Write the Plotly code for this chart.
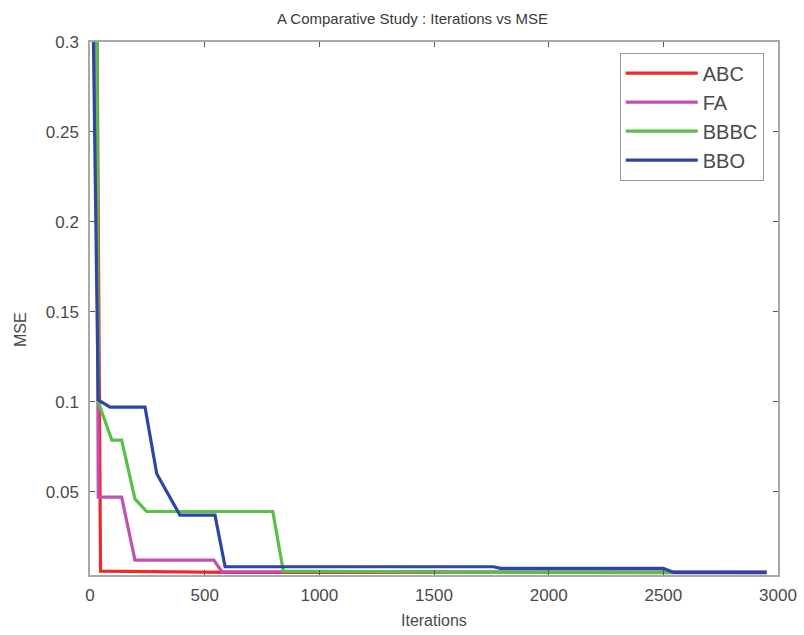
import plotly.graph_objects as go

# Data (breakpoints)
abc_x = [30, 42, 46, 600, 2950]
abc_y = [0.32, 0.047, 0.0058, 0.0052, 0.0050]

fa_x = [28, 36, 138, 196, 540, 575, 2950]
fa_y = [0.32, 0.047, 0.047, 0.012, 0.012, 0.0055, 0.0055]

bbbc_x = [0, 30, 36, 95, 138, 196, 247, 797, 843, 1770, 2950]
bbbc_y = [0.32, 0.3, 0.1, 0.0787, 0.0787, 0.046, 0.039, 0.039, 0.0058, 0.0052, 0.0050]

bbo_x = [0, 15, 36, 87, 240, 291, 392, 545, 589, 1760, 1790, 2500, 2543, 2950]
bbo_y = [0.32, 0.3, 0.101, 0.097, 0.097, 0.060, 0.037, 0.037, 0.0083, 0.0083, 0.0074, 0.0074, 0.0052, 0.0052]

series = [
    ("ABC", abc_x, abc_y, "#f0282a"),
    ("FA", fa_x, fa_y, "#c24fb2"),
    ("BBBC", bbbc_x, bbbc_y, "#55c244"),
    ("BBO", bbo_x, bbo_y, "#2b46a6"),
]

x_ticks = [0, 500, 1000, 1500, 2000, 2500, 3000]
y_ticks = [0.05, 0.1, 0.15, 0.2, 0.25, 0.3]
y_tick_labels = ["0.05", "0.1", "0.15", "0.2", "0.25", "0.3"]

fig = go.Figure()
for name, xs, ys, col in series:
    fig.add_trace(go.Scatter(x=xs, y=ys, mode="lines", name=name,
                             line=dict(color=col, width=3.2)))

axis_col = "#a8a8a8"
text_col = "#4a4a4a"
fnt = "Liberation Sans, Arial, sans-serif"

fig.update_layout(
    width=804, height=635,
    margin=dict(l=90, r=26, t=42, b=60, autoexpand=False),
    paper_bgcolor="white", plot_bgcolor="white",
    font=dict(family=fnt, color=text_col, size=17),
    title=dict(text="A Comparative Study : Iterations vs MSE", x=0.513, xanchor="center",
               y=0.971, yanchor="middle", font=dict(size=15, color="#3a3a3a")),
    showlegend=True,
    legend=dict(x=0.770, y=0.98, xanchor="left", yanchor="top",
                bordercolor="#9a9a9a", borderwidth=1, bgcolor="white",
                font=dict(size=20, color="#4a4a4a"), itemwidth=72),
    xaxis=dict(range=[0, 3000], tickvals=x_ticks, showgrid=False, zeroline=False,
               showline=True, linecolor=axis_col, linewidth=1.5, mirror="ticks",
               ticks="inside", ticklen=5, tickcolor="#555555", ticklabelstandoff=4,
               automargin=False),
    yaxis=dict(range=[0.0037, 0.3], tickvals=y_ticks, ticktext=y_tick_labels,
               showgrid=False, zeroline=False,
               showline=True, linecolor=axis_col, linewidth=1.5, mirror="ticks",
               ticks="inside", ticklen=5, tickcolor="#555555", ticklabelstandoff=6,
               automargin=False),
    annotations=[
        dict(text="Iterations", xref="paper", yref="paper", x=0.5, y=-0.085,
             xanchor="center", yanchor="middle", showarrow=False,
             font=dict(size=16, color=text_col)),
        dict(text="MSE", xref="paper", yref="paper", x=-0.1, y=0.46,
             xanchor="center", yanchor="middle", showarrow=False, textangle=-90,
             font=dict(size=16, color=text_col)),
    ],
)

fig.write_html("out.html")
